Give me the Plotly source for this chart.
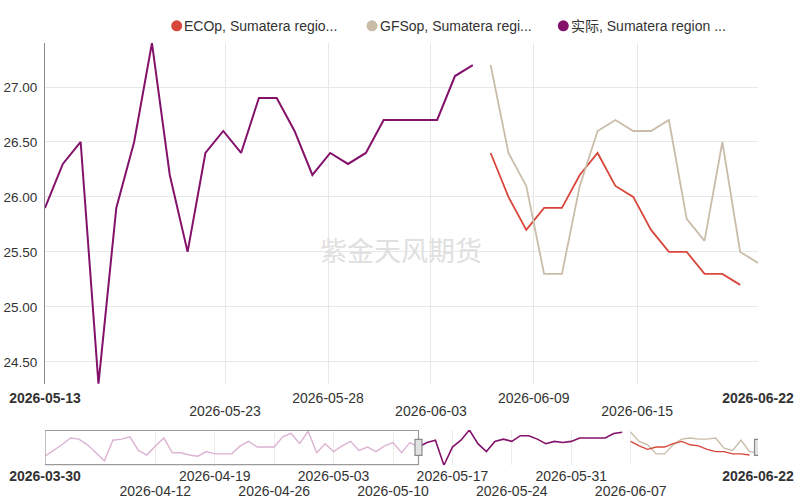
import pandas as pd
import plotly.graph_objects as go

# ---------------- data ----------------
actual_start = "2026-03-30"
# 实际 (actual), daily from 2026-03-30 to 2026-06-06
actual_values = [
    25.1, 25.6, 26.1, 26.7, 26.6, 26.1, 25.4, 24.7, 26.5, 26.6,
    26.8, 25.6, 25.2, 26.0, 26.7, 25.4, 25.4, 25.2, 25.1, 25.5,
    25.3, 25.3, 25.3, 26.0, 26.4, 25.9, 25.9, 25.9, 26.8, 27.1,
    26.2, 27.3, 25.4, 26.2, 25.5, 26.0, 26.4, 25.6, 25.9, 25.5,
    26.0, 26.3, 25.4, 26.3,
    25.9, 26.3, 26.5, 24.3, 25.9, 26.5, 27.4, 26.2, 25.5, 26.4,
    26.6, 26.4, 26.9, 26.9, 26.6, 26.2, 26.4, 26.3, 26.4, 26.7,
    26.7, 26.7, 26.7, 27.1, 27.2,
]
forecast_start = "2026-06-07"
ecop_values = [26.4, 26.0, 25.7, 25.9, 25.9, 26.2, 26.4, 26.1, 26.0, 25.7,
               25.5, 25.5, 25.3, 25.3, 25.2]
gfsop_values = [27.2, 26.4, 26.1, 25.3, 25.3, 26.1, 26.6, 26.7, 26.6, 26.6,
                26.7, 25.8, 25.6, 26.5, 25.5, 25.4]

series_names = ["ECOp, Sumatera regio...", "GFSop, Sumatera regi...", "实际, Sumatera region ..."]
watermark_text = "紫金天风期货"

full_start, full_end = "2026-03-30", "2026-06-22"
view_start, view_end = "2026-05-13", "2026-06-22"

y_range = [24.3, 27.4]
y_ticks = [24.5, 25.0, 25.5, 26.0, 26.5, 27.0]

# main axis labels: bold range ends, inner upper row, inner lower row
main_edge_labels = ["2026-05-13", "2026-06-22"]
main_labels_row1 = ["2026-05-28", "2026-06-09"]
main_offsets_row1 = [15.88, 27.42]          # days after view_start
main_labels_row2 = ["2026-05-23", "2026-06-03", "2026-06-15"]
main_offsets_row2 = [10.1, 21.65, 33.22]    # days after view_start

# overview strip labels
nav_edge_labels = ["2026-03-30", "2026-06-22"]
nav_labels_row1 = ["2026-04-19", "2026-05-03", "2026-05-17", "2026-05-31"]
nav_labels_row2 = ["2026-04-12", "2026-04-26", "2026-05-10", "2026-05-24", "2026-06-07"]

# ---------------- styling ----------------
W, H = 802, 499
M_L, M_R = 45, 44
PURPLE = "#84116a"
PINK = "#dcb3d3"
RED = "#d8473b"
BEIGE = "#c9bda9"
GRID = "#e8e8e8"
NAV_GRID = "#ececec"
TEXT = "#333333"
FONT = "Liberation Sans, Arial, Noto Sans CJK SC, sans-serif"


def px_x(px):
    return (px - M_L) / (W - M_L - M_R)


def px_y(py):
    return 1 - py / H


actual_dates = pd.date_range(actual_start, periods=len(actual_values), freq="D")
ecop_dates = pd.date_range(forecast_start, periods=len(ecop_values), freq="D")
gfsop_dates = pd.date_range(forecast_start, periods=len(gfsop_values), freq="D")

actual = pd.Series(actual_values, index=actual_dates)
vs = pd.Timestamp(view_start)
act_before = actual[actual.index <= vs]
act_after = actual[actual.index >= vs]

fig = go.Figure()

# main plot (three x axes share one range: each carries one group of labels)
fig.add_trace(go.Scatter(x=ecop_dates, y=ecop_values, mode="lines", name=series_names[0],
                         line=dict(color=RED, width=1.8), xaxis="x3", yaxis="y"))
fig.add_trace(go.Scatter(x=gfsop_dates, y=gfsop_values, mode="lines", name=series_names[1],
                         line=dict(color=BEIGE, width=1.8), xaxis="x5", yaxis="y"))
fig.add_trace(go.Scatter(x=actual_dates, y=actual_values, mode="lines", name=series_names[2],
                         line=dict(color=PURPLE, width=2), xaxis="x", yaxis="y"))

# overview strip
fig.add_trace(go.Scatter(x=act_before.index, y=act_before.values, mode="lines",
                         line=dict(color=PINK, width=1.4), xaxis="x2", yaxis="y2"))
fig.add_trace(go.Scatter(x=act_after.index, y=act_after.values, mode="lines",
                         line=dict(color=PURPLE, width=1.6), xaxis="x4", yaxis="y2"))
fig.add_trace(go.Scatter(x=ecop_dates, y=ecop_values, mode="lines",
                         line=dict(color=RED, width=1.4), xaxis="x6", yaxis="y2"))
fig.add_trace(go.Scatter(x=gfsop_dates, y=gfsop_values, mode="lines",
                         line=dict(color=BEIGE, width=1.4), xaxis="x2", yaxis="y2"))


def at(offset_days):
    return (vs + pd.Timedelta(days=offset_days)).strftime("%Y-%m-%d %H:%M:%S")


tick_font = dict(family=FONT, size=14, color=TEXT)

main_y_dom = [px_y(386.9), px_y(43.4)]
nav_y_dom = [px_y(469), px_y(433.5)]


def date_axis(rng, vals, text, grid, gridcolor, standoff, anchor, overlaying=None):
    ax = dict(type="date", anchor=anchor, range=rng, tickmode="array",
              tickvals=vals, ticktext=text, showgrid=grid, gridcolor=gridcolor,
              gridwidth=1, zeroline=False, showline=False, ticks="",
              tickfont=tick_font, ticklabelstandoff=standoff)
    if overlaying:
        ax["overlaying"] = overlaying
    else:
        ax["domain"] = [0, 1]
    return ax


main_rng = [view_start, view_end]
nav_rng = [full_start, full_end]

fig.update_layout(
    width=W, height=H,
    margin=dict(l=M_L, r=M_R, t=0, b=0, pad=0),
    paper_bgcolor="white", plot_bgcolor="white",
    showlegend=False,
    font=dict(family=FONT, color=TEXT),
    xaxis=date_axis(main_rng, [at(o) for o in main_offsets_row1], main_labels_row1,
                    True, GRID, 4, "y"),
    xaxis3=date_axis(main_rng, [at(o) for o in main_offsets_row2], main_labels_row2,
                     True, GRID, 17, "y", overlaying="x"),
    xaxis5=date_axis(main_rng, main_edge_labels,
                     [f"<b>{t}</b>" for t in main_edge_labels],
                     False, GRID, 4, "y", overlaying="x"),
    yaxis=dict(domain=main_y_dom, anchor="x", range=y_range, tickmode="array",
               tickvals=y_ticks, tickformat=".2f", showgrid=True, gridcolor=GRID,
               zeroline=False, showline=True, linecolor="#8a8a8a", linewidth=1,
               ticks="", tickfont=dict(family=FONT, size=13.5, color=TEXT),
               ticklabelstandoff=4),
    xaxis2=date_axis(nav_rng, nav_labels_row1, nav_labels_row1, True, NAV_GRID, 1, "y2"),
    xaxis4=date_axis(nav_rng, nav_labels_row2, nav_labels_row2, True, NAV_GRID, 16, "y2",
                     overlaying="x2"),
    xaxis6=date_axis(nav_rng, nav_edge_labels, [f"<b>{t}</b>" for t in nav_edge_labels],
                     False, NAV_GRID, 1, "y2", overlaying="x2"),
    yaxis2=dict(domain=nav_y_dom, anchor="x2", range=y_range, visible=False),
)

# overview window frame and handles
fig.add_shape(type="rect", xref="x2", yref="paper", x0=full_start, x1=view_start,
              y0=px_y(468.3), y1=px_y(434), line=dict(color="#9a9a9a", width=1.2),
              fillcolor="rgba(0,0,0,0)", layer="above")
for hx in (view_start, view_end):
    fig.add_shape(type="rect", xref="x2", yref="paper", xsizemode="pixel", xanchor=hx,
                  x0=-3.5, x1=3.5, y0=px_y(459), y1=px_y(443),
                  line=dict(color="#8a8a8a", width=1.2), fillcolor="#e2e2e2", layer="above")

# legend row
legend_items = [(series_names[0], RED, 176.7), (series_names[1], BEIGE, 372.0),
                (series_names[2], PURPLE, 563.3)]
for name, col, cx in legend_items:
    fig.add_shape(type="circle", xref="paper", yref="paper", xsizemode="pixel",
                  ysizemode="pixel", xanchor=px_x(cx), yanchor=px_y(26),
                  x0=-5.5, x1=5.5, y0=-5.5, y1=5.5, fillcolor=col, line=dict(width=0))
    fig.add_annotation(x=px_x(cx + 5.6), y=px_y(26), xref="paper", yref="paper",
                       text=name, showarrow=False, xanchor="left", yanchor="middle",
                       font=dict(family=FONT, size=14, color=TEXT))

# watermark
fig.add_annotation(x=px_x(401), y=px_y(251.5), xref="paper", yref="paper",
                   text=watermark_text, showarrow=False, xanchor="center", yanchor="middle",
                   font=dict(family="Noto Sans CJK SC", size=27, color="#e0e0e0"))

fig.write_html("out.html")
